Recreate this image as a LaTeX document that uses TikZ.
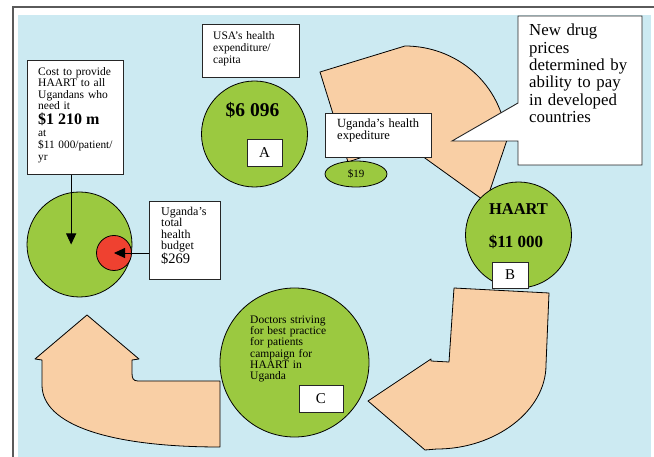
\documentclass[tikz,border=0pt]{standalone}
\usepackage{fontspec}
\setmainfont{Liberation Serif}
\usetikzlibrary{arrows.meta,shapes.geometric}
\definecolor{bgblue}{HTML}{CCEAF2}
\definecolor{greenf}{HTML}{9BC940}
\definecolor{peachc}{HTML}{F9CFA5}
\definecolor{redc}{HTML}{EF4130}
\definecolor{framegray}{HTML}{5A5A5A}
\newcommand{\myfs}[2]{\fontsize{#1}{#2}\selectfont\lineskiplimit=-100pt\relax}
\tikzset{
  peach/.style={fill=peachc, draw=black, line width=0.8pt, line join=round},
  greenc/.style={circle, fill=greenf, draw=black, line width=0.8pt, inner sep=0pt},
  wbox/.style={rectangle, fill=white, draw=black!85, line width=0.9pt, inner sep=0pt, anchor=north west},
  lblbox/.style={rectangle, fill=white, draw=black!85, line width=0.9pt, inner sep=0pt, font=\myfs{15}{15}},
  txt/.style={inner sep=0pt, anchor=base west, align=left},
  ctxt/.style={inner sep=0pt, anchor=base},
  conn/.style={draw=black, line width=0.9pt, -{Triangle[length=11pt,width=10pt]}}
}
\begin{document}
\begin{tikzpicture}[x=1pt,y=-1pt]
\useasboundingbox (0,0) rectangle (654,457);
\fill[bgblue] (18,15) rectangle (651,457);
\draw[framegray, line width=1.6pt] (13,457) -- (13,7) -- (654,7);

% peach shapes
\draw[peach] (87,315) -- (139,359) -- (132,360) -- (132,373)
  .. controls (132,378) and (133,381) .. (138,381) -- (220,381) -- (220,447)
  .. controls (110,447) and (42,425) .. (42,385) -- (42,360) -- (35,359) -- cycle;
\draw[peach] (454,288) -- (549,293) -- (546,365)
  .. controls (546,411) and (495,449) .. (437,449) -- (425,450) -- (368,401)
  -- (431,359) -- (431,361) -- (449,362) -- cycle;
\draw[peach] (404,143) -- (486,202) -- (507,140)
  .. controls (502,83) and (456,46) .. (405,46) -- (320,72) -- (348,162) -- cycle;

% circles
\node[greenc, minimum size=105pt] (bigleft) at (79.5,244.5) {};
\node[circle, fill=redc, draw=black, line width=0.8pt, inner sep=0pt, minimum size=35pt] (redbudget) at (114,253) {};
\node[greenc, minimum size=106pt] (circA) at (254.5,134) {};
\node[greenc, minimum size=106pt] (circB) at (518.5,235) {};
\node[greenc, minimum size=149pt] (circC) at (294.5,362.5) {};
\node[ellipse, fill=greenf, draw=black, line width=0.8pt, inner sep=0pt, minimum width=62pt, minimum height=26pt, font=\myfs{11}{11}] (ell19) at (356,174) {\$19};

% boxes
\node[wbox, minimum width=96pt, minimum height=114pt] (costbox) at (27,60) {};
\node[wbox, minimum width=71pt, minimum height=78pt] (budgetbox) at (149,201) {};
\node[wbox, minimum width=97pt, minimum height=53pt] (usabox) at (202,24) {};
\node[wbox, minimum width=106pt, minimum height=44pt] (ugbox) at (325,113) {};
\draw[fill=white, draw=black!85, line width=0.9pt] (518,16) -- (642,16) -- (642,165) -- (518,165)
  -- (518,141) -- (452,141) -- (518,103) -- cycle;

\node[lblbox, minimum width=35pt, minimum height=27pt] (boxA) at (264.5,152.5) {A};
\node[lblbox, minimum width=36pt, minimum height=26pt] (boxB) at (510,275) {B};
\node[lblbox, minimum width=44pt, minimum height=27pt] (boxC) at (321,398.5) {C};

% connectors
\draw[conn] ([xshift=-4.3pt]costbox.south) -- ([xshift=-4.3pt]costbox.south |- bigleft.center);
\draw[conn] (budgetbox.west |- redbudget.center) -- (redbudget.center);

% texts
\node[txt, text width=90pt, font=\myfs{11.5}{11.5}] (costt1) at (38,75.3) {Cost to provide\\HAART to all\\Ugandans who\\need it};
\node[txt, font=\myfs{16}{16}\bfseries] (costt2) at (38,125) {\$1 210 m};
\node[txt, text width=90pt, font=\myfs{11.3}{11.7}] (costt3) at (38,136.7) {at\\\$11 000/patient/\\yr};

\node[txt, text width=60pt, font=\myfs{12}{11.3}] (budt1) at (161,215.5) {Uganda’s\\total\\health\\budget};
\node[txt, font=\myfs{14.5}{14.5}] (budt2) at (161,263.5) {\$269};

\node[txt, text width=90pt, font=\myfs{11.5}{11.7}] (usat) at (213,40) {USA’s health\\expenditure/\\capita};
\node[ctxt, font=\myfs{19.5}{19.5}\bfseries] (valA) at (252.5,116.7) {\$6 096};

\node[txt, text width=95pt, font=\myfs{12.5}{12}] (ugt) at (337,127.3) {Uganda’s health\\expediture};

\node[txt, text width=112pt, font=\myfs{16.8}{17.3}] (newt) at (529,36) {New drug\\prices\\determined by\\ability to pay\\in developed\\countries};

\node[ctxt, font=\myfs{16.5}{16.5}\bfseries] (haart) at (518.5,215) {HAART};
\node[ctxt, font=\myfs{17}{17}\bfseries] (valB) at (516,247.7) {\$11 000};

\node[txt, text width=85pt, font=\myfs{11.5}{11.3}] (doct) at (250,323.3) {Doctors striving\\for best practice\\for patients\\campaign for\\HAART in\\Uganda};
\end{tikzpicture}
\end{document}
